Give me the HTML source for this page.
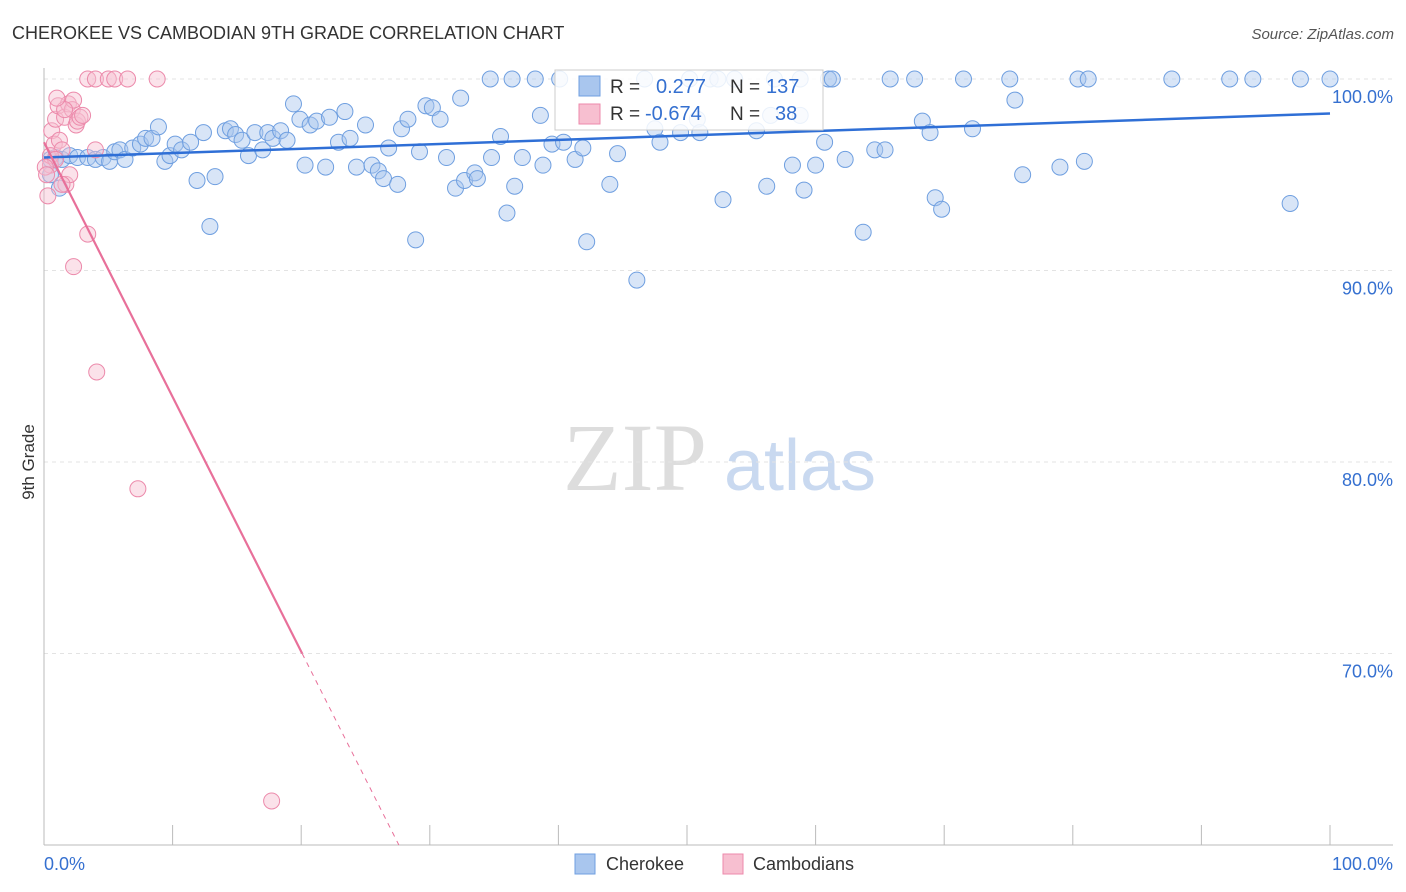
<!DOCTYPE html>
<html><head><meta charset="utf-8"><style>
body{margin:0;background:#fff;font-family:"Liberation Sans",sans-serif;}
svg{display:block}
</style></head><body>
<svg id="chart" width="1406" height="892">
<text x="12" y="39" font-size="18" fill="#333">CHEROKEE VS CAMBODIAN 9TH GRADE CORRELATION CHART</text>
<text x="1394" y="39" font-size="15" fill="#555" font-style="italic" text-anchor="end">Source: ZipAtlas.com</text>
<text x="34" y="462" font-size="17" fill="#333" transform="rotate(-90 34 462)" text-anchor="middle">9th Grade</text>
<g><text x="635" y="490" font-size="96" font-family="Liberation Serif,serif" fill="#ddd" text-anchor="middle">ZIP</text><text x="800" y="490" font-size="72" fill="#c9d9f0" text-anchor="middle">atlas</text></g>
<g id="grid"></g><g id="marks"></g><g id="lines"></g>
<g>
<rect x="555" y="70" width="268" height="60" fill="#fff" fill-opacity="0.85" stroke="#ccc"/>
<rect x="579" y="76" width="21" height="20" fill="#a9c6ee" stroke="#6f9fe0"/>
<text x="610" y="93" font-size="19" fill="#333">R =</text><text x="656" y="93" font-size="20" fill="#3570d0">0.277</text>
<text x="730" y="93" font-size="19" fill="#333">N =</text><text x="766" y="93" font-size="20" fill="#3570d0">137</text>
<rect x="579" y="104" width="21" height="20" fill="#f7bfd0" stroke="#ec8aab"/>
<text x="610" y="120" font-size="19" fill="#333">R =</text><text x="645" y="120" font-size="20" fill="#3570d0">-0.674</text>
<text x="730" y="120" font-size="19" fill="#333">N =</text><text x="775" y="120" font-size="20" fill="#3570d0">38</text>
</g>
<g>
<rect x="575" y="854" width="20" height="20" fill="#a9c6ee" stroke="#6f9fe0"/><text x="606" y="870" font-size="18" fill="#333">Cherokee</text>
<rect x="723" y="854" width="20" height="20" fill="#f7bfd0" stroke="#ec8aab"/><text x="753" y="870" font-size="18" fill="#333">Cambodians</text>
</g>
</svg>
<script>
const blueX=[0.5,0.9,1.4,2.0,2.6,3.4,4.0,4.6,5.1,5.5,5.9,6.3,6.9,7.5,7.9,8.4,8.9,9.4,9.8,10.2,10.7,11.4,11.9,12.4,12.9,13.3,14.1,14.5,14.9,15.4,15.9,16.4,17.0,17.4,17.8,18.4,18.9,19.4,19.9,20.3,20.7,21.2,21.9,22.2,22.9,23.4,23.8,24.3,25.0,25.5,26.0,26.4,26.8,27.5,27.8,28.3,28.9,29.2,29.7,30.2,30.8,31.3,32.0,32.4,32.7,33.5,33.7,34.7,34.8,35.5,36.0,36.4,36.6,37.2,38.2,38.6,38.8,39.5,40.1,40.4,41.3,41.9,42.2,44.6,44.0,46.1,46.7,47.5,47.9,49.5,50.2,50.8,51.8,52.4,52.8,53.7,55.4,56.2,56.8,58.2,58.8,59.1,60.0,60.7,61.0,61.3,62.3,63.7,64.6,65.4,65.8,67.7,68.3,68.9,69.3,69.8,71.5,72.2,75.1,75.5,76.1,79.0,80.4,80.9,81.2,87.7,92.2,94.0,96.9,97.7,100,58.8,56.5,51.0,1.2,0.5];
const blueY=[95.8,95.9,95.8,96.0,95.9,95.9,95.8,95.9,95.7,96.2,96.3,95.8,96.4,96.6,96.9,96.9,97.5,95.7,96.0,96.6,96.3,96.7,94.7,97.2,92.3,94.9,97.3,97.4,97.1,96.8,96.0,97.2,96.3,97.2,96.9,97.3,96.8,98.7,97.9,95.5,97.6,97.8,95.4,98.0,96.7,98.3,96.9,95.4,97.6,95.5,95.2,94.8,96.4,94.5,97.4,97.9,91.6,96.2,98.6,98.5,97.9,95.9,94.3,99.0,94.7,95.1,94.8,100,95.9,97.0,93.0,100,94.4,95.9,100,98.1,95.5,96.6,100,96.7,95.8,96.4,91.5,96.1,94.5,89.5,100,97.4,96.7,97.2,100,97.9,100,100,93.7,100,97.3,94.4,100,95.5,98.1,94.2,95.5,96.7,100,100,95.8,92.0,96.3,96.3,100,100,97.8,97.2,93.8,93.2,100,97.4,100,98.9,95.0,95.4,100,95.7,100,100,100,100,93.5,100,100,100,98.1,97.2,94.3,95.0];
const pinkX=[0.3,0.5,0.6,0.8,0.9,1.1,1.2,1.4,1.6,1.7,1.9,2.0,2.2,2.3,2.5,2.6,2.8,3.0,3.4,2.3,3.4,4.0,5.0,5.5,6.5,8.8,4.1,7.3,17.7,0.5,0.9,0.1,1.6,1.4,0.2,1.0,4.0];
const pinkY=[93.9,95.5,97.3,96.6,97.9,98.6,96.8,96.3,98.0,94.5,98.7,95.0,98.4,98.9,97.6,97.8,98.0,98.1,91.9,90.2,100,100,100,100,100,100,84.7,78.6,62.3,96.0,95.8,95.4,98.4,94.5,95.0,99.0,96.3];
const yTicks=[100,90,80,70];
const xTickLabels=["0.0%","100.0%"];
const blueTrend=[95.9,98.2];
const pinkTrend=[96.7,-1.33];
const X=v=>44+v*12.86, Y=v=>79+(100-v)*19.15;
const NS="http://www.w3.org/2000/svg";
function mk(tag,attrs,parent){const e=document.createElementNS(NS,tag);for(const k in attrs)e.setAttribute(k,attrs[k]);parent.appendChild(e);return e;}
const grid=document.getElementById('grid'),marks=document.getElementById('marks'),lines=document.getElementById('lines');
yTicks.forEach(t=>{const l=mk('line',{x1:44,x2:1393,y1:Y(t),y2:Y(t),stroke:'#e3e3e3','stroke-dasharray':'4,4'},grid);


const tx=mk('text',{x:1393,y:Y(t)+24,'font-size':18,fill:'#3570d0','text-anchor':'end'},grid);tx.textContent=t.toFixed(1)+'%';

});
const ax=mk('line',{x1:44,x2:1393,y1:845,y2:845,stroke:'#bbb'},grid);


const ay=mk('line',{x1:44,x2:44,y1:68,y2:845,stroke:'#bbb'},grid);


for(let i=0;i<=10;i++){const tk=mk('line',{x1:X(i*10),x2:X(i*10),y1:825,y2:845,stroke:'#bbb'},grid);

}
xTickLabels.forEach((s,i)=>{const t=mk('text',{x:i?1393:44,y:870,'font-size':18,fill:'#3570d0','text-anchor':i?'end':'start'},grid);t.textContent=s;

});
blueX.forEach((x,i)=>{const c=mk('circle',{cx:X(x),cy:Y(blueY[i]),r:8,fill:'#a9c6ee','fill-opacity':0.45,stroke:'#6f9fe0','stroke-width':1},marks);

});
pinkX.forEach((x,i)=>{const c=mk('circle',{cx:X(x),cy:Y(pinkY[i]),r:8,fill:'#f7bfd0','fill-opacity':0.45,stroke:'#ec8aab','stroke-width':1},marks);

});
const bl=mk('line',{x1:X(0),y1:Y(blueTrend[0]),x2:X(100),y2:Y(blueTrend[1]),stroke:'#2f6fd6','stroke-width':2.5},lines);


const pe=(70-pinkTrend[0])/pinkTrend[1], pend=(60-pinkTrend[0])/pinkTrend[1];
const pl=mk('line',{x1:X(0),y1:Y(pinkTrend[0]),x2:X(pe),y2:Y(70),stroke:'#e8709a','stroke-width':2.2},lines);


const pd=mk('line',{x1:X(pe),y1:Y(70),x2:X(pend),y2:Y(60),stroke:'#e8709a','stroke-width':1,'stroke-dasharray':'5,5'},lines);


</script>
</body></html>
